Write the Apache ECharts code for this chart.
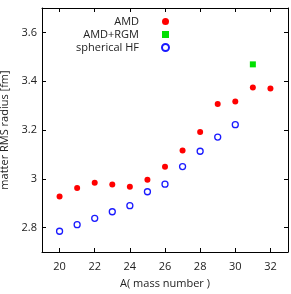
<!DOCTYPE html>
<html><head><meta charset="utf-8">
<script src="https://cdn.jsdelivr.net/npm/echarts@6/dist/echarts.min.js"></script>
<style>html,body{margin:0;padding:0;background:#fff}#c{width:291px;height:294px}</style>
</head><body><div id="c"></div>
<script>
var massNumbers = [20,21,22,23,24,25,26,27,28,29,30,31,32];
var amd = [2.927,2.962,2.984,2.977,2.967,2.996,3.049,3.116,3.192,3.307,3.317,3.374,3.370];
var amdRgmA = [31];
var amdRgm = [3.469];
var hfA = [20,21,22,23,24,25,26,27,28,29,30];
var hf = [2.785,2.812,2.838,2.865,2.890,2.947,2.978,3.050,3.113,3.171,3.222];
var xTicks = [20,22,24,26,28,30,32];
var yTicks = [2.8,3.0,3.2,3.4,3.6];

function pairs(xs, ys){ return xs.map(function(x,i){return [x, ys[i]];}); }
var font = '"Open Sans", sans-serif';
var axisLine = {show:true, lineStyle:{color:'#000', width:1}};
var tickStyle = {show:true, inside:true, length:4, lineStyle:{color:'#000'}};
var chart = echarts.init(document.getElementById('c'));
chart.setOption({
  animation:false,
  textStyle:{fontFamily:font},
  grid:{left:42, right:3, top:8, bottom:42, outerBoundsMode:'none', containLabel:false},
  legend:{
    orient:'vertical', align:'right', right:121, top:16, padding:0,
    itemWidth:7, itemHeight:7, itemGap:2,
    textStyle:{fontFamily:font, fontSize:11, lineHeight:10, color:'#222', padding:[0,18,0,0]},
    data:['AMD','AMD+RGM','spherical HF']
  },
  xAxis:[{
    type:'value', min:19, max:33,
    name:'A( mass number )', nameLocation:'middle', nameGap:26,
    nameTextStyle:{fontFamily:font, fontSize:11, color:'#222'},
    axisLine:axisLine, splitLine:{show:false},
    axisTick:Object.assign({customValues:xTicks}, tickStyle),
    axisLabel:{customValues:xTicks, fontFamily:font, fontSize:11, color:'#222', margin:9}
  },{
    type:'value', min:19, max:33, position:'top',
    axisLine:axisLine, splitLine:{show:false},
    axisTick:Object.assign({customValues:xTicks}, tickStyle),
    axisLabel:{show:false}
  }],
  yAxis:[{
    type:'value', min:2.7, max:3.7,
    name:'matter RMS radius [fm]', nameLocation:'middle', nameGap:28,
    nameTextStyle:{fontFamily:font, fontSize:11, color:'#222'},
    axisLine:axisLine, splitLine:{show:false},
    axisTick:Object.assign({customValues:yTicks}, tickStyle),
    axisLabel:{customValues:yTicks, fontFamily:font, fontSize:11, color:'#222', margin:5,
      formatter:function(v){ return String(Math.round(v*10)/10); }}
  },{
    type:'value', min:2.7, max:3.7, position:'right',
    axisLine:axisLine, splitLine:{show:false},
    axisTick:Object.assign({customValues:yTicks}, tickStyle),
    axisLabel:{show:false}
  }],
  series:[
    {name:'AMD', type:'scatter', symbol:'circle', symbolSize:6,
     itemStyle:{color:'#ff0000', opacity:1}, data:pairs(massNumbers, amd)},
    {name:'AMD+RGM', type:'scatter', symbol:'rect', symbolSize:6,
     itemStyle:{color:'#00e000', opacity:1}, data:pairs(amdRgmA, amdRgm)},
    {name:'spherical HF', type:'scatter', symbol:'circle', symbolSize:6,
     itemStyle:{color:'#fff', borderColor:'#1a1aff', borderWidth:1.3, opacity:1}, data:pairs(hfA, hf)}
  ]
});
</script></body></html>
